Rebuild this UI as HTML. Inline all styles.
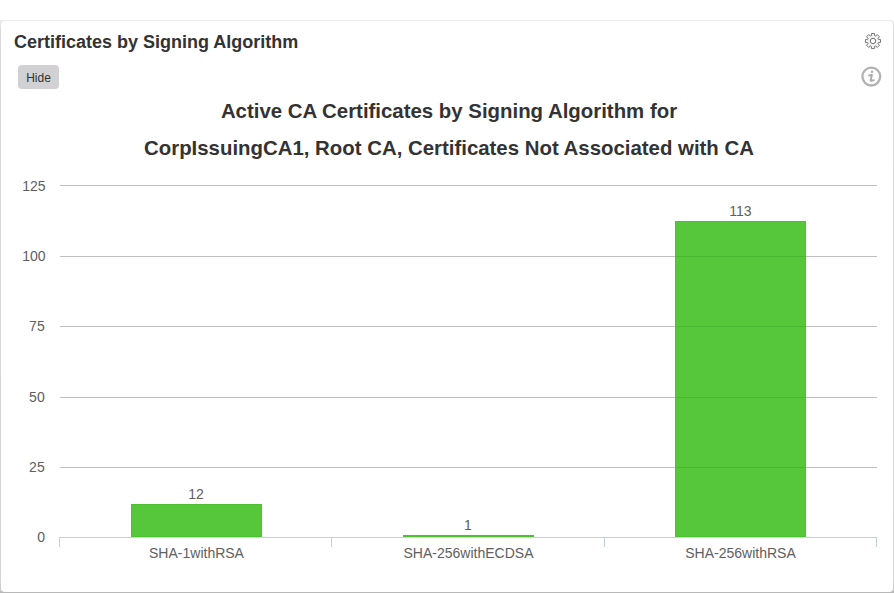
<!DOCTYPE html>
<html>
<head>
<meta charset="utf-8">
<title>Certificates by Signing Algorithm</title>
<style>
  html, body { margin: 0; padding: 0; background: #ffffff; }
  body { width: 894px; height: 593px; overflow: hidden; position: relative;
         font-family: "Liberation Sans", sans-serif; color: #333; }
  .shadow { position: absolute; left: 0; top: 20px; width: 894px; height: 573px;
            border-radius: 1px 4px 0 0;
            background: linear-gradient(to bottom, #ececec 0, #ececec 1px, #e6e6e6 3px, #d8d8d8 12px, #d4d4d4 560px, #cacaca 571px, #b8b8b8 572px, #b8b8b8 573px); }
  .card { position: absolute; left: 1px; top: 21px; width: 892px; height: 571px;
          background: #fff; border-radius: 4px; }
  .hdr { position: absolute; left: 14px; top: 31px; font-size: 18px; font-weight: bold;
         line-height: 22px; color: #333; white-space: nowrap; }
  .btn { position: absolute; left: 18px; top: 65px; width: 41px; height: 24px;
         background: #d1d1d4; border-radius: 4px; font-size: 12px; line-height: 26px;
         text-align: center; color: #333; }
  .ttl { position: absolute; left: 0; width: 898px; text-align: center; font-size: 20.4px;
         font-weight: bold; line-height: 24px; color: #333; white-space: nowrap; }
  svg { position: absolute; left: 0; top: 0; }
  svg text { font-family: "Liberation Sans", sans-serif; font-size: 14px; fill: #606060; }
</style>
</head>
<body>
<div class="shadow"></div>
<div class="card"></div>
<div class="hdr">Certificates by Signing Algorithm</div>
<div class="btn">Hide</div>
<div class="ttl" style="top:99px">Active CA Certificates by Signing Algorithm for</div>
<div class="ttl" style="top:136px">CorpIssuingCA1, Root CA, Certificates Not Associated with CA</div>

<svg width="894" height="593" viewBox="0 0 894 593">
  <!-- grid lines -->
  <g shape-rendering="crispEdges" fill="#c0c0c0">
    <rect x="60" y="185" width="817" height="1"/>
    <rect x="60" y="256" width="817" height="1"/>
    <rect x="60" y="326" width="817" height="1"/>
    <rect x="60" y="397" width="817" height="1"/>
    <rect x="60" y="467" width="817" height="1"/>
  </g>
  <!-- x axis -->
  <g shape-rendering="crispEdges" fill="#c0d0e0">
    <rect x="59" y="537" width="818" height="1"/>
    <rect x="59" y="537" width="1" height="10"/>
    <rect x="331" y="537" width="1" height="10"/>
    <rect x="604" y="537" width="1" height="10"/>
    <rect x="876" y="537" width="1" height="10"/>
  </g>
  <!-- bars -->
  <g shape-rendering="crispEdges">
    <rect x="131" y="504" width="131" height="33" fill="#4cc231"/>
    <rect x="132" y="505" width="129" height="31" fill="#56c73a"/>
    <rect x="403" y="535" width="131" height="2" fill="#4cc231"/>
    <rect x="675" y="221" width="131" height="316" fill="#4cc231"/>
    <rect x="676" y="222" width="129" height="314" fill="#56c73a"/>
    <!-- grid lines seen through bar -->
    <g fill="#48b830">
      <rect x="676" y="256" width="129" height="1"/>
      <rect x="676" y="326" width="129" height="1"/>
      <rect x="676" y="397" width="129" height="1"/>
      <rect x="676" y="467" width="129" height="1"/>
    </g>
    <!-- axis line under bars -->
    <g fill="#c6d8ee">
      <rect x="131" y="537" width="131" height="1"/>
      <rect x="403" y="537" width="131" height="1"/>
      <rect x="675" y="537" width="131" height="1"/>
    </g>
  </g>
  <!-- y labels -->
  <g text-anchor="end">
    <text x="45.5" y="191">125</text>
    <text x="45.5" y="261">100</text>
    <text x="44.7" y="331">75</text>
    <text x="44.7" y="402">50</text>
    <text x="44.7" y="472">25</text>
    <text x="45" y="542">0</text>
  </g>
  <!-- x labels -->
  <g text-anchor="middle">
    <text x="196.5" y="558">SHA-1withRSA</text>
    <text x="468.5" y="558">SHA-256withECDSA</text>
    <text x="740.5" y="558">SHA-256withRSA</text>
  </g>
  <!-- data labels -->
  <g text-anchor="middle">
    <text x="196" y="499">12</text>
    <text x="468" y="530">1</text>
    <text x="740.5" y="216">113</text>
  </g>
  <!-- gear icon -->
  <g id="gear">
    <path d="M871.22 35.80 L871.55 33.44 L874.45 33.44 L874.78 35.80 L875.42 36.06 L877.32 34.62 L879.38 36.68 L877.94 38.58 L878.20 39.22 L880.56 39.55 L880.56 42.45 L878.20 42.78 L877.94 43.42 L879.38 45.32 L877.32 47.38 L875.42 45.94 L874.78 46.20 L874.45 48.56 L871.55 48.56 L871.22 46.20 L870.58 45.94 L868.68 47.38 L866.62 45.32 L868.06 43.42 L867.80 42.78 L865.44 42.45 L865.44 39.55 L867.80 39.22 L868.06 38.58 L866.62 36.68 L868.68 34.62 L870.58 36.06 Z" fill="#f2f2f2" stroke="#767676" stroke-width="1" stroke-linejoin="round"/>
    <circle cx="873" cy="41" r="2.7" fill="#fff" stroke="#767676" stroke-width="1"/>
  </g>
  <!-- info icon -->
  <g id="info">
    <circle cx="871.3" cy="76.6" r="8.9" fill="none" stroke="#b2b2b2" stroke-width="2.3"/>
    <circle cx="872" cy="71.8" r="1.25" fill="#aaa"/>
    <path d="M869.2 75.5 L871.95 74.9 L870.7 79.9 Q870.5 81 871.9 80.7 L873.8 80.1" fill="none" stroke="#aaa" stroke-width="1.9" stroke-linecap="round" stroke-linejoin="round"/>
  </g>
</svg>
</body>
</html>
